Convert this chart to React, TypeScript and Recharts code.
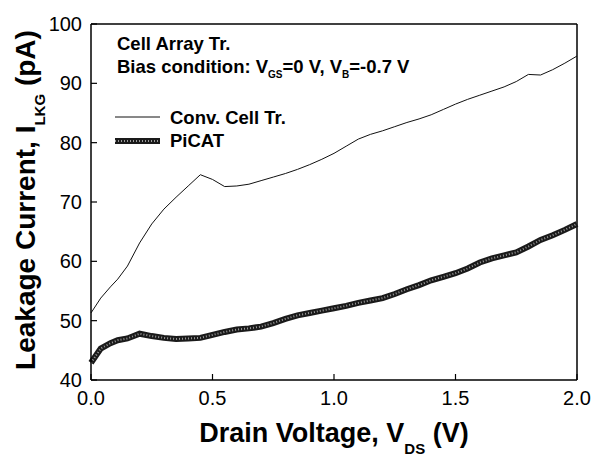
import React from 'react';
import { LineChart, Line, XAxis, YAxis, ReferenceLine } from 'recharts';

const vds = [0, 0.04, 0.08, 0.11, 0.15, 0.2, 0.25, 0.3, 0.35, 0.4, 0.45, 0.5, 0.55, 0.6, 0.65, 0.7, 0.75, 0.8, 0.85, 0.9, 0.95, 1.0, 1.05, 1.1, 1.15, 1.2, 1.25, 1.3, 1.35, 1.4, 1.45, 1.5, 1.55, 1.6, 1.65, 1.7, 1.75, 1.8, 1.85, 1.9, 1.95, 2.0];
const convCell = [51.3, 53.8, 55.7, 57.0, 59.2, 63.1, 66.3, 68.8, 70.8, 72.7, 74.6, 73.8, 72.6, 72.7, 73.0, 73.6, 74.2, 74.8, 75.5, 76.3, 77.2, 78.2, 79.4, 80.6, 81.4, 82.0, 82.7, 83.4, 84.0, 84.7, 85.6, 86.5, 87.3, 88.0, 88.7, 89.4, 90.3, 91.5, 91.4, 92.3, 93.4, 94.6];
const picat = [42.9, 45.3, 46.2, 46.7, 47.0, 47.8, 47.4, 47.1, 46.9, 47.0, 47.1, 47.6, 48.1, 48.5, 48.7, 49.0, 49.6, 50.3, 50.9, 51.3, 51.7, 52.1, 52.5, 53.0, 53.4, 53.8, 54.5, 55.3, 56.0, 56.8, 57.4, 58.0, 58.8, 59.8, 60.5, 61.0, 61.5, 62.5, 63.6, 64.4, 65.3, 66.3];
const xTicks = [0, 0.5, 1.0, 1.5, 2.0];
const yTicks = [40, 50, 60, 70, 80, 90, 100];

const data = vds.map((v, i) => ({ vds: v, conv: convCell[i], picat: picat[i] }));

const FONT = '"Liberation Sans", Arial, Helvetica, sans-serif';

export default function App() {
  return (
    <div style={{ position: 'absolute', left: 0, top: 0, width: 592, height: 458, background: '#fff', fontFamily: FONT }}>
      <LineChart width={592} height={458} data={data} margin={{ top: 24, right: 15, left: 0, bottom: 0 }}>
        <XAxis
          dataKey="vds"
          type="number"
          domain={[0, 2]}
          ticks={xTicks}
          tickFormatter={(v: number) => v.toFixed(1)}
          height={78}
          tickSize={-6}
          tickMargin={17}
          stroke="#000"
          tick={{ fill: '#000', fontSize: 20, fontFamily: FONT }}
          axisLine={{ stroke: '#000', strokeWidth: 1.5 }}
          tickLine={{ stroke: '#000', strokeWidth: 1.2 }}
        />
        <YAxis
          type="number"
          domain={[40, 100]}
          ticks={yTicks}
          width={91}
          tickSize={-6}
          tickMargin={15}
          stroke="#000"
          tick={{ fill: '#000', fontSize: 20, fontFamily: FONT }}
          axisLine={{ stroke: '#000', strokeWidth: 1.5 }}
          tickLine={{ stroke: '#000', strokeWidth: 1.2 }}
        />
        <ReferenceLine y={100} stroke="#000" strokeWidth={1.5} />
        <ReferenceLine x={2} stroke="#000" strokeWidth={1.5} />
        <Line dataKey="conv" stroke="#111" strokeWidth={1} dot={false} isAnimationActive={false} />
        <Line dataKey="picat" stroke="#1a1a1a" strokeWidth={6} dot={false} isAnimationActive={false} />
        <Line dataKey="picat" stroke="#9a9a9a" strokeWidth={2} strokeDasharray="1 2" dot={false} isAnimationActive={false} />
      </LineChart>
      <svg width={592} height={458} style={{ position: 'absolute', left: 0, top: 0, pointerEvents: 'none' }}>
        <g fontFamily={FONT} fontWeight="bold" fill="#000">
          <text x={117} y={50} fontSize={18.5}>Cell Array Tr.</text>
          <text x={117} y={73} fontSize={18.5}>
            Bias condition: V<tspan fontSize={10} dy={5}>GS</tspan><tspan dy={-5}>=0 V, V</tspan><tspan fontSize={10} dy={5}>B</tspan><tspan dy={-5}>=-0.7 V</tspan>
          </text>
          <line x1={115} y1={117} x2={160} y2={117} stroke="#111" strokeWidth={1} />
          <text x={170} y={124} fontSize={18.5}>Conv. Cell Tr.</text>
          <line x1={115} y1={141} x2={160} y2={141} stroke="#1a1a1a" strokeWidth={6} />
          <line x1={115} y1={141} x2={160} y2={141} stroke="#9a9a9a" strokeWidth={2} strokeDasharray="1 2" />
          <text x={170} y={147} fontSize={18.5}>PiCAT</text>
          <text x={334} y={442} fontSize={27} textAnchor="middle">
            Drain Voltage, V<tspan fontSize={15} dy={12}>DS</tspan><tspan dy={-12}> (V)</tspan>
          </text>
          <text transform="translate(35,200) rotate(-90)" fontSize={28} textAnchor="middle">
            Leakage Current, I<tspan fontSize={15} dy={10}>LKG</tspan><tspan dy={-10}> (pA)</tspan>
          </text>
        </g>
      </svg>
    </div>
  );
}
